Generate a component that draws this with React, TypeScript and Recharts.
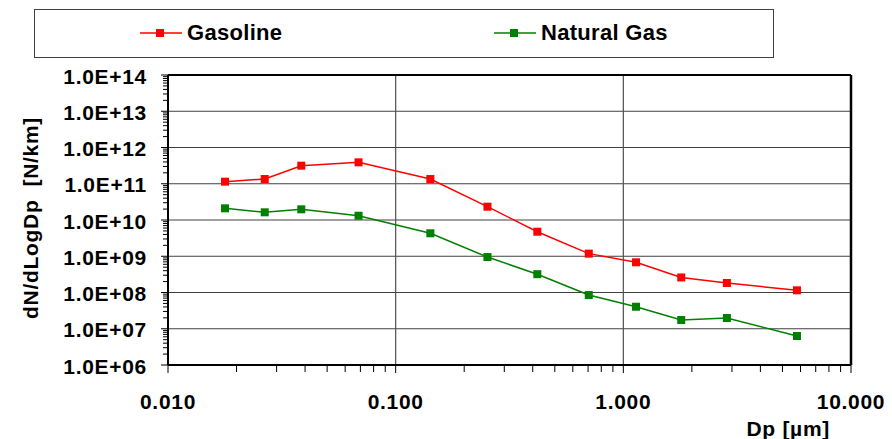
import React from 'react';
import { Line, LineChart, ReferenceLine, XAxis, YAxis } from 'recharts';

// particle diameter [um] and number distributions
const DP = [0.0178, 0.0266, 0.0385, 0.0687, 0.142, 0.253, 0.419, 0.705, 1.137, 1.796, 2.85, 5.79];
const GASOLINE = [1.14e11, 1.35e11, 3.15e11, 3.9e11, 1.35e11, 2.33e10, 4.75e9, 1.18e9, 6.8e8, 2.6e8, 1.83e8, 1.15e8];
const NATURAL_GAS = [2.1e10, 1.63e10, 1.97e10, 1.31e10, 4.3e9, 9.5e8, 3.2e8, 8.5e7, 4.05e7, 1.74e7, 1.98e7, 6.3e6];

const X_DECADES = [0.01, 0.1, 1, 10];
const X_LABELS = ['0.010', '0.100', '1.000', '10.000'];
const Y_DECADES = [1e6, 1e7, 1e8, 1e9, 1e10, 1e11, 1e12, 1e13, 1e14];
const Y_LABELS = ['1.0E+06', '1.0E+07', '1.0E+08', '1.0E+09', '1.0E+10', '1.0E+11', '1.0E+12', '1.0E+13', '1.0E+14'];

const RED = '#ff0000';
const GREEN = '#008000';
const FONT = '"Liberation Sans", Arial, sans-serif';

const data = DP.map((dp, i) => ({ dp, gasoline: GASOLINE[i], naturalGas: NATURAL_GAS[i] }));

// decades plus the 2..9 minor positions between them
const withMinors = (decades: number[]) => {
  const out: number[] = [];
  decades.forEach((d, i) => {
    out.push(d);
    if (i < decades.length - 1) for (let k = 2; k <= 9; k++) out.push(+(d * k).toPrecision(6));
  });
  return out;
};
const X_TICKS = withMinors(X_DECADES);
const Y_TICKS = withMinors(Y_DECADES);

const decadeIndex = (decades: number[], v: number) =>
  decades.findIndex((d) => Math.abs(Math.log10(d) - Math.log10(v)) < 1e-6);

const labelStyle = { fontFamily: FONT, fontWeight: 700, fontSize: 21, letterSpacing: 0.7, fill: '#000' };

function XTick(props: any) {
  const { x, y, payload } = props;
  const i = decadeIndex(X_DECADES, payload.value);
  return (
    <g>
      <line x1={x} x2={x} y1={y} y2={y + (i >= 0 ? 8 : 7)} stroke="#000" />
      {i >= 0 && (
        <text x={x} y={y + 36} textAnchor="middle" dominantBaseline="central" style={labelStyle}>
          {X_LABELS[i]}
        </text>
      )}
    </g>
  );
}

function YTick(props: any) {
  const { x, y, payload } = props;
  const i = decadeIndex(Y_DECADES, payload.value);
  return (
    <g>
      <line x1={x - (i >= 0 ? 7 : 5)} x2={x} y1={y} y2={y} stroke="#000" />
      {i >= 0 && (
        <text x={x - 21} y={y + 1} textAnchor="end" dominantBaseline="central" style={labelStyle}>
          {Y_LABELS[i]}
        </text>
      )}
    </g>
  );
}

const squareDot = (color: string) => (props: any) => {
  const { cx, cy, index } = props;
  if (cx == null || cy == null) return <g key={index} />;
  return <rect key={index} x={cx - 4} y={cy - 4} width={8} height={8} fill={color} />;
};

function LegendItem({ left, color, text }: { left: number; color: string; text: string }) {
  return (
    <div style={{ position: 'absolute', left, top: 20, height: 26, display: 'flex', alignItems: 'center' }}>
      <svg width={42} height={10}>
        <line x1={0} x2={42} y1={5} y2={5} stroke={color} strokeWidth={1.5} />
        <rect x={16} y={1} width={8} height={8} fill={color} />
      </svg>
      <span style={{ marginLeft: 5, fontFamily: FONT, fontWeight: 700, fontSize: 22, letterSpacing: 0.3 }}>{text}</span>
    </div>
  );
}

export default function App() {
  return (
    <div style={{ position: 'absolute', left: 0, top: 0, width: 892, height: 439, background: '#fff' }}>
      <div
        style={{
          position: 'absolute',
          left: 34,
          top: 9,
          width: 740,
          height: 49,
          boxSizing: 'border-box',
          border: '1.5px solid #404040',
        }}
      />
      <LegendItem left={140} color={RED} text="Gasoline" />
      <LegendItem left={494} color={GREEN} text="Natural Gas" />
      <LineChart width={892} height={439} data={data} margin={{ top: 75, right: 41, bottom: 0, left: 0 }}>
        <XAxis
          dataKey="dp"
          type="number"
          scale="log"
          domain={[0.01, 10]}
          allowDataOverflow
          ticks={X_TICKS}
          interval={0}
          tick={XTick}
          tickLine={false}
          tickSize={0}
          tickMargin={0}
          height={74}
          axisLine={{ stroke: '#000', strokeWidth: 2 }}
          label={{
            content: (p: any) => {
              const vb = p.viewBox;
              return (
                <text x={vb.x + vb.width - 21} y={vb.y + 63} textAnchor="end" dominantBaseline="central" style={labelStyle}>
                  Dp [µm]
                </text>
              );
            },
          }}
        />
        <YAxis
          type="number"
          scale="log"
          domain={[1e6, 1e14]}
          allowDataOverflow
          ticks={Y_TICKS}
          interval={0}
          tick={YTick}
          tickLine={false}
          tickSize={0}
          tickMargin={0}
          width={168}
          axisLine={{ stroke: '#000', strokeWidth: 2 }}
          label={{
            content: (p: any) => {
              const vb = p.viewBox;
              const cx = vb.x + 30;
              const cy = vb.y + vb.height / 2 - 2;
              return (
                <text
                  x={cx}
                  y={cy}
                  transform={`rotate(-90, ${cx}, ${cy})`}
                  textAnchor="middle"
                  dominantBaseline="central"
                  style={{ ...labelStyle, whiteSpace: 'pre' }}
                >
                  {'dN/dLogDp  [N/km]'}
                </text>
              );
            },
          }}
        />
        {Y_DECADES.slice(1, -1).map((v) => (
          <ReferenceLine key={v} y={v} stroke="#404040" strokeWidth={1} />
        ))}
        {X_DECADES.slice(1, -1).map((v) => (
          <ReferenceLine key={v} x={v} stroke="#505050" strokeWidth={1.2} />
        ))}
        <ReferenceLine y={1e14} stroke="#000" strokeWidth={2} />
        <ReferenceLine x={10} stroke="#000" strokeWidth={2.5} />
        <Line
          dataKey="gasoline"
          stroke={RED}
          strokeWidth={1.5}
          dot={squareDot(RED)}
          activeDot={false}
          isAnimationActive={false}
        />
        <Line
          dataKey="naturalGas"
          stroke={GREEN}
          strokeWidth={1.5}
          dot={squareDot(GREEN)}
          activeDot={false}
          isAnimationActive={false}
        />
      </LineChart>
    </div>
  );
}
